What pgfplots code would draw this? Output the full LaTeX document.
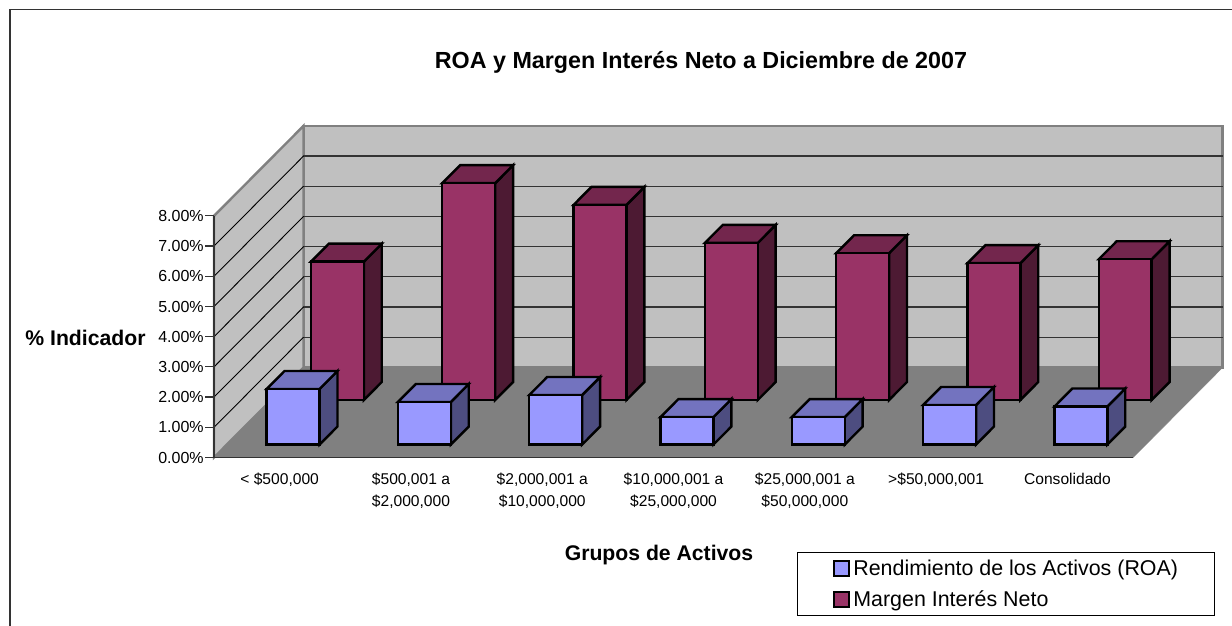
\documentclass[border=0pt]{standalone}
\usepackage{fontspec}
\setmainfont{Liberation Sans}
\usepackage{pgfplots}
\pgfplotsset{compat=1.18}
\definecolor{wall}{HTML}{C0C0C0}
\definecolor{walledge}{HTML}{808080}
\definecolor{floorc}{HTML}{808080}
\definecolor{roaF}{HTML}{9999FF}
\definecolor{roaT}{HTML}{7373BF}
\definecolor{roaS}{HTML}{4D4D80}
\definecolor{mF}{HTML}{993366}
\definecolor{mT}{HTML}{73264D}
\definecolor{mS}{HTML}{4D1A33}
\definecolor{gridc}{HTML}{333333}
% one box: category index, front depth, value, colours
\newcommand{\boxbar}[6]{%
  \pgfmathsetmacro\xa{#1+0.303}\pgfmathsetmacro\xb{#1+0.706}%
  \pgfmathsetmacro\ya{#2}\pgfmathsetmacro\yb{#2+0.2}\pgfmathsetmacro\zz{#3}%
  \addplot3[fill=#6,draw=black,line width=2.4pt,line join=miter,forget plot] coordinates {(\xb,\ya,0) (\xb,\yb,0) (\xb,\yb,\zz) (\xb,\ya,\zz)} -- cycle;
  \addplot3[fill=#5,draw=black,line width=2.4pt,line join=miter,forget plot] coordinates {(\xa,\ya,\zz) (\xb,\ya,\zz) (\xb,\yb,\zz) (\xa,\yb,\zz)} -- cycle;
  \addplot3[fill=#4,draw=black,line width=2.4pt,line join=miter,forget plot] coordinates {(\xa,\ya,0) (\xb,\ya,0) (\xb,\ya,\zz) (\xa,\ya,\zz)} -- cycle;
}
\begin{document}
\begin{tikzpicture}
\begin{axis}[
  disabledatascaling,
  x={(131.3pt,0pt)}, y={(89.5pt,90pt)}, z={(0pt,30.2pt)},
  xmin=0,xmax=7,ymin=0,ymax=1,zmin=0,zmax=8,
  hide axis, clip=false,
  legend style={at={(axis cs:4.44,0,-3.13)},anchor=north west,draw=black,line width=0.9pt,
    inner xsep=35.5pt,inner ysep=7pt,font=\fontsize{21.4}{25}\selectfont,
    row sep=11pt,
    nodes={inner sep=1pt,anchor=west}},
  legend cell align=left,
]
% walls
\addplot3[fill=wall,draw=walledge,line width=2.4pt,forget plot] coordinates {(0,1,0) (7,1,0) (7,1,8) (0,1,8)} -- cycle;
\addplot3[fill=wall,draw=walledge,line width=2.4pt,forget plot] coordinates {(0,0,0) (0,1,0) (0,1,8) (0,0,8)} -- cycle;
% grid and ticks
\pgfplotsinvokeforeach{1,...,7}{
  \addplot3[draw=gridc,line width=1.2pt,forget plot] coordinates {(0,1,#1) (7,1,#1)};
  \addplot3[draw=black,line width=0.9pt,forget plot] coordinates {(0,0,#1) (0,1,#1)};
}
% floor
\addplot3[fill=floorc,draw=floorc,line width=0.5pt,forget plot] coordinates {(0,0,0) (7,0,0) (7,1,0) (0,1,0)} -- cycle;
% axis lines
\addplot3[draw=gridc,line width=1.2pt,forget plot] coordinates {(0,0,8) (0,0,0) (7,0,0)};
\pgfplotsinvokeforeach{0,...,8}{
  \addplot3[draw=gridc,line width=1.2pt,forget plot] coordinates {(-0.065,0,#1) (0,0,#1)};
  \node[anchor=east,inner sep=0pt,font=\fontsize{16}{19}\selectfont] at (axis cs:-0.077,0,#1) {#1.00\%};
}
% Margen Interes Neto (back row)
\boxbar{0}{0.639}{4.58}{mF}{mT}{mS}
\boxbar{1}{0.639}{7.18}{mF}{mT}{mS}
\boxbar{2}{0.639}{6.46}{mF}{mT}{mS}
\boxbar{3}{0.639}{5.20}{mF}{mT}{mS}
\boxbar{4}{0.639}{4.86}{mF}{mT}{mS}
\boxbar{5}{0.639}{4.53}{mF}{mT}{mS}
\boxbar{6}{0.639}{4.66}{mF}{mT}{mS}
% ROA (front row)
\boxbar{0}{0.144}{1.84}{roaF}{roaT}{roaS}
\boxbar{1}{0.144}{1.41}{roaF}{roaT}{roaS}
\boxbar{2}{0.144}{1.64}{roaF}{roaT}{roaS}
\boxbar{3}{0.144}{0.91}{roaF}{roaT}{roaS}
\boxbar{4}{0.144}{0.91}{roaF}{roaT}{roaS}
\boxbar{5}{0.144}{1.31}{roaF}{roaT}{roaS}
\boxbar{6}{0.144}{1.26}{roaF}{roaT}{roaS}
% category labels
\foreach \i/\t in {0/{< \$500,000},1/{\$500,001 a\\\$2,000,000},2/{\$2,000,001 a\\\$10,000,000},3/{\$10,000,001 a\\\$25,000,000},4/{\$25,000,001 a\\\$50,000,000},5/{>\$50,000,001},6/{Consolidado}}{
  \edef\temp{\noexpand\node[anchor=north,align=center,inner sep=0pt,font=\noexpand\fontsize{15.6}{22}\noexpand\selectfont] at (axis cs:\i+0.5,0,-0.52) {\unexpanded\expandafter{\t}};}
  \temp
}
\addlegendimage{legend image code/.code={\draw[fill=roaF,draw=black,line width=2pt] (0pt,-7.5pt) rectangle (15pt,7.5pt);\path (18pt,0pt);}}
\addlegendentry{Rendimiento de los Activos (ROA)}
\addlegendimage{legend image code/.code={\draw[fill=mF,draw=black,line width=2pt] (0pt,-7.5pt) rectangle (15pt,7.5pt);\path (18pt,0pt);}}
\addlegendentry{Margen Interés Neto}
\coordinate (O) at (axis cs:0,0,0);
\end{axis}
\pgfresetboundingbox
\begin{scope}[x=1pt,y=1pt,shift={(O)}]
\begin{scope}[shift={(-214,-168.5)}]
\path[use as bounding box] (0,0) rectangle (1232,626);
\draw[draw=gridc,line width=1.3pt] (10,0) -- (10,616.5) -- (1232,616.5);
\node[font=\bfseries\fontsize{23.3}{27}\selectfont,inner sep=0pt] at (701,563.5) {ROA y Margen Interés Neto a Diciembre de 2007};
\node[font=\bfseries\fontsize{21.2}{25}\selectfont,inner sep=0pt] at (85.5,288.5) {\% Indicador};
\node[font=\bfseries\fontsize{21.2}{25}\selectfont,inner sep=0pt] at (659,70.5) {Grupos de Activos};
\end{scope}
\end{scope}
\end{tikzpicture}
\end{document}
